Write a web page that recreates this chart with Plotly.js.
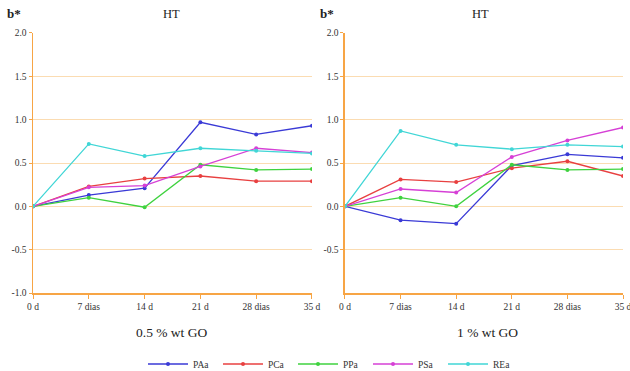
<!DOCTYPE html>
<html>
<head>
<meta charset="utf-8">
<script src="https://cdn.plot.ly/plotly-3.0.1.min.js"></script>
<style>html,body{margin:0;padding:0;background:#fff;}#chart{width:630px;height:371px;}</style>
</head>
<body>
<div id="chart"></div>
<script>
const categories = ["0 d", "7 dias", "14 d", "21 d", "28 dias", "35 d"];
const seriesNames = ["PAa", "PCa", "PPa", "PSa", "REa"];
const seriesColors = ["#3a3ad6", "#e84040", "#3fd23f", "#d640d6", "#40d6d6"];

// 0.5 % wt GO
const left_PAa = [0, 0.13, 0.21, 0.97, 0.83, 0.93];
const left_PCa = [0, 0.23, 0.32, 0.35, 0.29, 0.29];
const left_PPa = [0, 0.10, -0.01, 0.48, 0.42, 0.43];
const left_PSa = [0, 0.22, 0.24, 0.46, 0.67, 0.62];
const left_REa = [0, 0.72, 0.58, 0.67, 0.64, 0.61];

// 1 % wt GO
const right_PAa = [0, -0.16, -0.20, 0.47, 0.60, 0.56];
const right_PCa = [0, 0.31, 0.28, 0.44, 0.52, 0.35];
const right_PPa = [0, 0.10, 0.00, 0.48, 0.42, 0.43];
const right_PSa = [0, 0.20, 0.16, 0.57, 0.76, 0.91];
const right_REa = [0, 0.87, 0.71, 0.66, 0.71, 0.69];

const yTickVals = [-1.0, -0.5, 0.0, 0.5, 1.0, 1.5, 2.0];
const yTickText = ["-1.0", "-0.5", "0.0", "0.5", "1.0", "1.5", "2.0"];
const yTickValsRight = [-0.5, 0.0, 0.5, 1.0, 1.5, 2.0];
const yTickTextRight = ["-0.5", "0.0", "0.5", "1.0", "1.5", "2.0"];

const panelTitle = "HT";
const yLabel = "b*";
const leftLabel = "0.5 % wt GO";
const rightLabel = "1 % wt GO";

const leftData = [left_PAa, left_PCa, left_PPa, left_PSa, left_REa];
const rightData = [right_PAa, right_PCa, right_PPa, right_PSa, right_REa];

const traces = [];
seriesNames.forEach((name, i) => {
  traces.push({
    x: categories, y: leftData[i], name: name, type: "scatter", mode: "lines+markers",
    line: {color: seriesColors[i], width: 1.3}, marker: {color: seriesColors[i], size: 4},
    xaxis: "x", yaxis: "y", legendgroup: name, showlegend: true
  });
});
seriesNames.forEach((name, i) => {
  traces.push({
    x: categories, y: rightData[i], name: name, type: "scatter", mode: "lines+markers",
    line: {color: seriesColors[i], width: 1.3}, marker: {color: seriesColors[i], size: 4},
    xaxis: "x2", yaxis: "y2", legendgroup: name, showlegend: false
  });
});

const axisColor = "#f7a545";
const gridColor = "#fbdcb2";
const tickFont = {family: "Liberation Serif, serif", size: 9.5, color: "#333"};

function xAxis(domain, anchor) {
  return {
    domain: domain, anchor: anchor, type: "category", range: [0, 5],
    showline: true, linecolor: axisColor, linewidth: 1.5,
    ticks: "outside", ticklen: 4, tickcolor: axisColor, tickwidth: 1,
    showgrid: false, zeroline: false, tickfont: tickFont, fixedrange: true
  };
}
function yAxis(anchor, tv, tt) {
  return {
    domain: [0.2102, 0.9111], anchor: anchor, range: [-1, 2],
    tickvals: tv, ticktext: tt,
    showline: true, linecolor: axisColor, linewidth: 1.5,
    ticks: "outside", ticklen: 3, tickcolor: axisColor,
    showgrid: true, gridcolor: gridColor, gridwidth: 1, zeroline: false,
    tickfont: tickFont, fixedrange: true
  };
}

const annFont = {family: "Liberation Serif, serif", color: "#222"};
function ann(text, px, py, size) {
  return {text: text, xref: "paper", yref: "paper", x: px/630, y: 1 - py/371,
    xanchor: "center", yanchor: "middle", showarrow: false,
    font: Object.assign({size: size}, annFont)};
}
const layout = {
  width: 630, height: 371,
  margin: {l: 0, r: 0, t: 0, b: 0, autoexpand: false},
  paper_bgcolor: "#fff", plot_bgcolor: "#fff",
  xaxis: xAxis([0.0524, 0.4952], "y"),
  yaxis: yAxis("x", yTickVals, yTickText),
  xaxis2: xAxis([0.5476, 0.9889], "y2"),
  yaxis2: yAxis("x2", yTickValsRight, yTickTextRight),
  showlegend: true,
  legend: {
    orientation: "h", x: 143/630, xanchor: "left", y: 1 - 364/371, yanchor: "middle",
    font: {family: "Liberation Serif, serif", size: 9.5, color: "#333"},
    entrywidth: 20, entrywidthmode: "pixels", itemwidth: 40, bgcolor: "rgba(0,0,0,0)"
  },
  annotations: [
    ann("<b>" + yLabel + "</b>", 14, 14, 13),
    ann(panelTitle, 171, 14, 12.5),
    ann("<b>" + yLabel + "</b>", 327, 14, 13),
    ann(panelTitle, 481, 14, 12.5),
    ann(leftLabel, 172, 332, 13.5),
    ann(rightLabel, 487, 332, 13.5)
  ]
};

Plotly.newPlot("chart", traces, layout, {staticPlot: true, displayModeBar: false});
</script>
</body>
</html>
